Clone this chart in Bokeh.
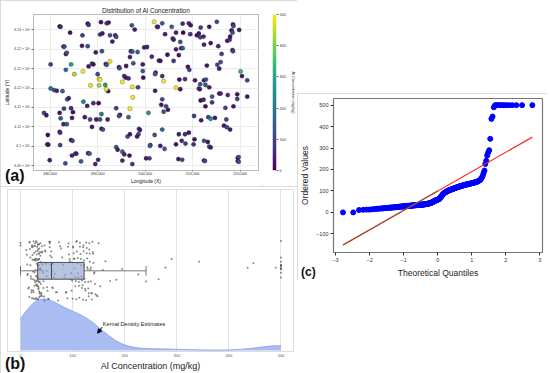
import numpy as np
from statistics import NormalDist
from bokeh.plotting import figure
from bokeh.models import (ColumnDataSource, LinearColorMapper, FixedTicker, Label, Spacer,
                          Arrow, NormalHead, Range1d, Div)
from bokeh.layouts import row, column
from bokeh.palettes import Viridis256
from bokeh.embed import file_html
from bokeh.resources import INLINE

FONT = "Liberation Sans"

# ---------------- data ----------------
# sample locations (km) and Al concentration (mg/kg)
lon_km = [
    482.0, 482.2, 487.9, 488.1, 484.2, 486.8, 490.7, 490.5, 491.0, 491.9,
    492.3, 492.6, 493.7, 493.9, 493.1, 497.2, 497.8, 502.5, 502.7, 503.6,
    504.2, 505.6, 506.5, 507.9, 508.0, 509.2, 509.6, 509.5, 510.9, 511.7,
    511.3, 511.6, 513.5, 515.1, 518.5, 518.6, 518.2, 518.4, 519.8, 505.8,
    506.0, 507.4, 507.6, 507.9, 506.5, 512.4, 512.3, 513.8, 515.4, 517.3,
    517.8, 517.9, 516.1, 518.4, 518.5, 482.8, 483.0, 483.3, 483.5, 486.7,
    487.9, 489.6, 490.9, 497.0, 497.3, 496.8, 498.4, 499.8, 500.4, 501.4,
    504.7, 502.9, 503.2, 506.0, 507.1, 480.1, 488.1, 488.8, 489.1, 490.0,
    491.7, 491.9, 494.5, 494.6, 496.0, 497.5, 499.5, 499.5, 502.2, 502.1,
    495.9, 495.6, 496.5, 499.6, 503.6, 507.2, 508.4, 509.0, 509.3, 513.0,
    515.2, 515.6, 515.9, 520.4, 521.5, 512.4, 512.8, 510.5, 511.6, 492.2,
    480.8, 481.4, 483.6, 483.9, 487.8, 489.1, 490.2, 484.4, 484.8, 482.9,
    482.0, 478.7, 479.2, 498.5, 502.1, 503.6, 503.4, 504.4, 504.8, 503.9,
    507.4, 511.3, 511.5, 512.7, 513.5, 514.1, 515.6, 515.9, 517.4, 511.7,
    512.3, 512.7, 514.1, 519.4, 519.4, 521.5, 516.9, 518.6, 493.9, 494.7,
    494.5, 487.3, 488.4, 489.7, 490.5, 492.1, 482.2, 482.8, 483.5, 484.6,
    482.0, 482.1, 479.5, 479.4, 479.6, 482.1, 484.4, 484.7, 490.8, 491.1,
    488.8, 498.7, 498.9, 498.6, 498.3, 496.3, 496.8, 502.0, 501.1, 501.0,
    503.2, 504.1, 507.1, 507.7, 508.4, 509.2, 510.2, 510.4, 508.5, 506.5,
    510.3, 511.8, 513.3, 514.7, 517.1, 516.6, 517.2, 517.9, 512.4, 513.2,
    513.5, 513.8, 493.9, 494.2, 495.2, 495.6, 495.2, 496.7, 497.3, 500.2,
    500.9, 507.0, 507.8, 512.4, 512.6, 519.5, 519.7, 519.5, 519.7, 479.9,
    483.2, 484.6, 485.3, 485.5, 486.5, 488.0, 488.3, 489.5, 490.1,
    484.4, 483.3, 480.1, 482.6, 487.0, 491.6, 490.8, 496.5, 500.7, 513.8,
    520.1, 503.6,
    501.9, 485.1, 486.9, 488.5, 490.3, 490.5, 490.3, 491.8, 492.6, 495.2,
    497.3, 497.4, 496.8, 503.9, 506.5,
]
lat_km = [
    4130.9, 4130.8, 4131.6, 4131.3, 4129.3, 4128.6, 4132.0, 4128.8, 4129.1, 4131.7,
    4131.9, 4128.6, 4128.6, 4128.2, 4127.0, 4131.2, 4130.1, 4130.8, 4130.8, 4131.7,
    4128.9, 4130.8, 4129.3, 4131.6, 4129.3, 4131.7, 4131.2, 4128.9, 4128.6, 4130.6,
    4129.1, 4128.1, 4130.8, 4132.1, 4131.4, 4131.0, 4129.9, 4129.3, 4130.0, 4127.8,
    4127.5, 4126.9, 4125.3, 4125.3, 4125.0, 4126.2, 4128.3, 4126.6, 4125.8, 4127.2,
    4127.5, 4128.3, 4123.8, 4124.8, 4124.5, 4125.7, 4125.7, 4123.8, 4124.1, 4125.9,
    4125.8, 4124.2, 4124.5, 4124.5, 4124.4, 4123.0, 4124.3, 4125.5, 4125.6, 4123.1,
    4123.6, 4122.1, 4122.0, 4122.0, 4123.5, 4121.1, 4120.6, 4121.3, 4121.1, 4118.6,
    4121.2, 4121.0, 4120.4, 4120.1, 4120.7, 4121.4, 4121.1, 4119.4, 4119.0, 4118.6,
    4117.7, 4118.1, 4117.5, 4117.7, 4118.1, 4117.2, 4117.3, 4120.5, 4119.7, 4120.8,
    4121.0, 4120.0, 4121.7, 4118.1, 4117.0, 4117.0, 4117.2, 4117.0, 4116.0, 4114.2,
    4114.5, 4114.3, 4112.1, 4112.4, 4110.4, 4111.1, 4111.1, 4109.8, 4108.8, 4109.7,
    4108.6, 4108.6, 4108.0, 4115.2, 4114.3, 4112.1, 4110.7, 4110.3, 4109.4, 4108.9,
    4114.7, 4114.9, 4114.7, 4115.8, 4115.2, 4112.8, 4113.6, 4113.6, 4113.2, 4111.8,
    4112.0, 4110.3, 4111.3, 4113.4, 4112.2, 4112.8, 4109.9, 4110.3, 4109.8, 4108.1,
    4107.8, 4107.5, 4106.9, 4106.9, 4106.9, 4106.9, 4107.2, 4105.7, 4105.7, 4107.3,
    4103.7, 4103.5, 4102.9, 4100.5, 4100.4, 4100.3, 4101.6, 4101.4, 4104.5, 4104.3,
    4105.0, 4104.5, 4104.2, 4103.1, 4102.5, 4102.5, 4103.1, 4102.9, 4100.3, 4100.1,
    4100.1, 4099.3, 4103.1, 4101.4, 4103.1, 4103.5, 4100.5, 4101.8, 4100.7, 4100.5,
    4107.8, 4106.7, 4107.5, 4107.3, 4106.9, 4105.3, 4104.9, 4104.3, 4101.4, 4101.1,
    4099.9, 4099.7, 4099.8, 4099.1, 4098.6, 4097.9, 4096.3, 4097.6, 4095.4, 4096.9,
    4096.9, 4096.7, 4096.5, 4096.3, 4096.2, 4097.0, 4097.2, 4096.2, 4096.0, 4096.4,
    4095.6, 4097.6, 4098.1, 4098.1, 4096.1, 4098.2, 4098.1, 4095.4, 4096.5,
    4121.1, 4119.7, 4114.9, 4114.2, 4111.5, 4115.8, 4108.3, 4107.5, 4108.6, 4107.1,
    4119.3, 4104.3,
    4132.1, 4118.6, 4119.3, 4115.7, 4117.4, 4117.2, 4115.7, 4114.7, 4121.9, 4116.6,
    4115.3, 4112.6, 4109.7, 4116.8, 4115.1,
]
al_mgkg = [
    0, 56, 17, 74, 22, 91, 25, 101, 28, 107, 30, 114, 32, 120, 34, 126, 36, 132, 38, 138, 41, 150, 46, 55,
    0, 57, 18, 76, 22, 92, 26, 101, 28, 108, 31, 114, 33, 121, 34, 127, 36, 132, 38, 139, 41, 47, 56,
    11, 59, 18, 78, 23, 93, 26, 102, 29, 108, 31, 115, 33, 121, 35, 127, 36, 133, 38, 139, 42, 48, 57,
    12, 60, 19, 80, 23, 94, 26, 103, 29, 109, 31, 116, 33, 122, 35, 128, 36, 133, 39, 140, 42, 49, 58,
    13, 62, 19, 82, 23, 95, 27, 103, 29, 110, 31, 116, 33, 122, 35, 128, 37, 134, 39, 141, 43, 50, 59,
    13, 64, 20, 84, 24, 96, 27, 104, 29, 110, 31, 117, 33, 123, 35, 129, 37, 135, 39, 142, 43, 50, 60,
    14, 66, 20, 86, 24, 97, 27, 105, 30, 111, 32, 118, 34, 124, 35, 130, 37, 135, 39, 143, 44, 51, 61,
    15, 68, 21, 87, 24, 98, 27, 105, 30, 112, 32, 118, 34, 124, 35, 130, 37, 136, 40, 144, 44, 52, 62,
    16, 70, 21, 88, 25, 99, 28, 106, 30, 112, 32, 119, 34, 125, 36, 131, 37, 137, 40, 146, 45, 53,
    17, 72, 22, 90, 25, 100, 28, 107, 30, 113, 32, 120, 34, 126, 36, 131, 38, 137, 41, 148, 46, 54,
    290, 163, 195, 158, 226, 278, 184, 172, 265, 241, 343, 153,
    500, 447, 500, 490, 500, 500, 436, 500, 500, 500, 500, 500, 500, 500, 500,
]

x_ticks = [480000, 490000, 500000, 510000, 520000]
x_tick_labels = ["480,000", "490,000", "500,000", "510,000", "520,000"]
y_ticks = [4095000, 4100000, 4105000, 4110000, 4115000, 4120000, 4125000, 4130000]
y_tick_labels = ["4.09 × 10⁶", "4.1 × 10⁶", "4.11 × 10⁶", "4.11 × 10⁶",
                 "4.12 × 10⁶", "4.12 × 10⁶", "4.12 × 10⁶", "4.13 × 10⁶"]
cbar_ticks = [0, 100, 200, 300, 400, 500]
conc_ticks = [0, 100, 200, 300, 400, 500]
qq_x_ticks = [-3, -2, -1, 0, 1, 2, 3]
qq_y_ticks = [-100, 0, 100, 200, 300, 400, 500]

lon = np.array(lon_km) * 1000.0
lat = np.array(lat_km) * 1000.0
al = np.array(al_mgkg, dtype=float)
n = len(al)

PANEL = {"outline": "1px solid #cfcfcf", "outline-offset": "-1px"}


def style_axis(ax, tick_font, label_font, tick_color="#333333", tick_out=2,
               label_standoff=1, title_standoff=1):
    ax.axis_line_color = None
    ax.major_tick_line_color = "#666666" if tick_out else None
    ax.major_tick_in = 0
    ax.major_tick_out = tick_out
    ax.minor_tick_line_color = None
    ax.major_label_text_font = FONT
    ax.major_label_text_font_size = tick_font
    ax.major_label_text_color = tick_color
    ax.major_label_standoff = label_standoff
    ax.axis_label_text_font = FONT
    ax.axis_label_text_font_size = label_font
    ax.axis_label_text_font_style = "normal"
    ax.axis_label_text_color = "#222222"
    ax.axis_label_standoff = title_standoff


# ---------------- (a) map ----------------
mapper = LinearColorMapper(palette=Viridis256, low=0, high=500)
pa = figure(width=262, height=186, output_backend="svg", toolbar_location=None,
            x_range=Range1d(476490, 523875), y_range=Range1d(4093750, 4133980),
            min_border_left=33, min_border_right=4, min_border_top=13, min_border_bottom=14,
            title="Distribution of Al Concentration")
pa.title.text_font = FONT
pa.title.text_font_size = "6.4px"
pa.title.text_font_style = "normal"
pa.title.text_color = "#222222"
pa.title.align = "center"
pa.title.standoff = 2
pa.outline_line_color = "#b8b8b8"
pa.outline_line_width = 1
pa.grid.grid_line_color = "#ececec"
pa.xaxis.ticker = FixedTicker(ticks=x_ticks)
pa.xaxis.major_label_overrides = dict(zip(x_ticks, x_tick_labels))
pa.yaxis.ticker = FixedTicker(ticks=y_ticks)
pa.yaxis.major_label_overrides = dict(zip(y_ticks, y_tick_labels))
pa.xaxis.axis_label = "Longitude (X)"
pa.yaxis.axis_label = "Latitude (Y)"
style_axis(pa.xaxis[0], "3.8px", "5px", tick_out=1, label_standoff=0, title_standoff=0)
style_axis(pa.yaxis[0], "3.6px", "5px", tick_out=2, label_standoff=1, title_standoff=1)

src_a = ColumnDataSource(dict(lon=lon, lat=lat, al=al))
pa.scatter("lon", "lat", source=src_a, size=4.3,
           fill_color={"field": "al", "transform": mapper},
           line_color="#1a1a1a", line_width=0.5, line_alpha=0.6)

# colour bar as its own small figure (viridis ramp over 0-500)
pcb = figure(width=35, height=186, output_backend="svg", toolbar_location=None,
             x_range=Range1d(0, 1), y_range=Range1d(0, 500),
             x_axis_location=None, y_axis_location="right",
             min_border_left=10, min_border_right=17, min_border_top=14, min_border_bottom=14)
pcb.grid.grid_line_color = None
pcb.outline_line_color = None
pcb.image(image=[np.linspace(0, 500, 256)[:, None]], x=0, y=0, dw=1, dh=500, color_mapper=mapper)
pcb.yaxis.ticker = FixedTicker(ticks=cbar_ticks)
pcb.yaxis.axis_label = "Al Concentration (mg/kg)"
style_axis(pcb.yaxis[0], "3.8px", "3.8px", tick_out=2, label_standoff=1, title_standoff=2)

# ---------------- (b) box + strip + KDE ----------------
pb = figure(width=297, height=187, output_backend="svg", toolbar_location=None,
            x_range=Range1d(-25, 524), y_range=Range1d(-0.006, 1.0), y_axis_location=None,
            min_border_left=7, min_border_right=4, min_border_top=3, min_border_bottom=20)
pb.styles = PANEL
pb.outline_line_color = "#dddddd"
pb.ygrid.grid_line_color = None
pb.xgrid.grid_line_color = "#e3e3e3"
pb.xaxis.ticker = FixedTicker(ticks=conc_ticks)
pb.xaxis.axis_label = "Al Concentration (mg/kg)"
style_axis(pb.xaxis[0], "4px", "9px", tick_color="#555555", tick_out=0,
           label_standoff=2, title_standoff=1)

# KDE (Gaussian, Scott bandwidth), cut at the data range
grid = np.linspace(al.min(), al.max(), 300)
bw = al.std(ddof=1) * n ** (-1.0 / 5.0)
dens = np.exp(-0.5 * ((grid[:, None] - al[None, :]) / bw) ** 2).sum(axis=1) / (n * bw * np.sqrt(2 * np.pi))
kde_y = dens / dens.max() * 0.32
pb.varea(x=grid, y1=np.zeros_like(grid), y2=kde_y, fill_color="#a9bdf2", fill_alpha=1.0)
pb.line(x=grid, y=kde_y, line_color="#8aa3ea", line_width=1)

# strip (vertical jitter taken from sample latitude)
jit = 0.495 + (np.array(lat_km) - 4113.75) / 18.35 * 0.185
pb.scatter(al, jit, size=2.0, fill_color="#555555", line_color=None, fill_alpha=0.7)

q1, med, q3 = np.percentile(al, [25, 50, 75])
iqr = q3 - q1
w_lo = al[al >= q1 - 1.5 * iqr].min()
w_hi = al[al <= q3 + 1.5 * iqr].max()
yc, hh = 0.495, 0.052
pb.segment(x0=[w_lo, q3], y0=[yc, yc], x1=[q1, w_hi], y1=[yc, yc], line_color="#666666", line_width=0.9)
pb.segment(x0=[w_lo, w_hi], y0=[yc - 0.03, yc - 0.03], x1=[w_lo, w_hi], y1=[yc + 0.03, yc + 0.03],
           line_color="#666666", line_width=0.9)
pb.quad(left=[q1], right=[q3], bottom=[yc - hh], top=[yc + hh], fill_color="#8fa5d2",
        fill_alpha=0.65, line_color="#4d4d4d", line_width=1)
pb.segment(x0=[med], y0=[yc - hh], x1=[med], y1=[yc + hh], line_color="#4d4d4d", line_width=1)

pb.add_layout(Arrow(end=NormalHead(size=4, fill_color="black", line_color="black"),
                    x_start=157, y_start=0.146, x_end=148, y_end=0.108,
                    line_color="black", line_width=1))
pb.add_layout(Label(x=158, y=0.166, text="Kernal Density Estimates", text_align="left",
                    text_baseline="middle", text_font=FONT, text_font_size="5.6px",
                    text_color="#222222"))

# ---------------- (c) QQ plot ----------------
osr = np.sort(al)
m = np.array([(i - 0.3175) / (n + 0.365) for i in range(1, n + 1)])
m[-1] = 0.5 ** (1.0 / n)
m[0] = 1 - m[-1]
nd = NormalDist()
osm = np.array([nd.inv_cdf(v) for v in m])
slope, intercept = np.polyfit(osm, osr, 1)

pc = figure(width=250, height=187, output_backend="svg", toolbar_location=None,
            x_range=Range1d(-3.06, 3.08), y_range=Range1d(-187, 531),
            min_border_left=33, min_border_right=5, min_border_top=5, min_border_bottom=25)
pc.styles = PANEL
pc.outline_line_color = "#777777"
pc.outline_line_width = 1.2
pc.grid.grid_line_color = None
pc.xaxis.ticker = FixedTicker(ticks=qq_x_ticks)
pc.yaxis.ticker = FixedTicker(ticks=qq_y_ticks)
pc.xaxis.axis_label = "Theoretical Quantiles"
pc.yaxis.axis_label = "Ordered Values"
for ax in (pc.xaxis[0], pc.yaxis[0]):
    style_axis(ax, "5.5px", "8.5px", tick_out=3, label_standoff=2, title_standoff=3)
    ax.major_tick_line_color = "#333333"

pc.scatter(osm, osr, size=5, fill_color="#0000ff", line_color="#0000ff")
xl = np.array([osm.min(), osm.max()])
pc.line(xl, slope * xl + intercept, line_color="#ff2a2a", line_width=1.2)
xl_low = np.array([osm.min(), 0.0])
pc.line(xl_low, slope * xl_low + intercept, line_color="#8a5a30", line_width=1.2)


# ---------------- panel letters ----------------
def panel_letter(text, left, top, size):
    return Div(text=text, width=30, height=18,
               styles={"position": "absolute", "left": f"{left}px", "top": f"{top}px",
                       "font-family": FONT, "font-size": f"{size}px", "font-weight": "bold",
                       "line-height": f"{size}px", "color": "#111111", "margin": "0"})


a_row = row(pa, pcb)
a_row.styles = PANEL
left_col = column(a_row, pb)
right_col = column(Spacer(width=250, height=93), pc)
root = row(left_col, right_col,
           panel_letter("(a)", 5, 168, 16), panel_letter("(b)", 5, 356, 16),
           panel_letter("(c)", 301, 266, 12))
root.styles = {"position": "absolute", "left": "0px", "top": "0px"}

open("out.html", "w").write(file_html(root, INLINE))
